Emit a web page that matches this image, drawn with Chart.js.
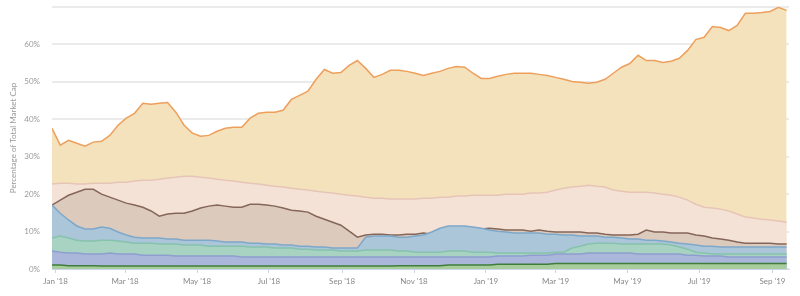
<!DOCTYPE html>
<html>
<head>
<meta charset="utf-8">
<script src="https://cdn.jsdelivr.net/npm/chart.js@4/dist/chart.umd.min.js"></script>
<style>
  body { margin: 0; background: #fff; }
  #wrap { width: 800px; height: 296px; }
</style>
</head>
<body>
<div id="wrap"><canvas id="chart"></canvas></div>
<script>
// days counted from 1 Jan 2018, one point per week
const days = [];
for (let d = -3; d <= 620; d += 7) days.push(d);

const tickDays = [0, 59, 120, 181, 243, 304, 365, 424, 485, 546, 608];
const tickLabels = ["Jan '18", "Mar '18", "May '18", "Jul '18", "Sep '18", "Nov '18", "Jan '19", "Mar '19", "May '19", "Jul '19", "Sep '19"];

const btc = [37.6, 33.1, 34.4, 33.6, 32.8, 33.9, 34.1, 35.7, 38.4, 40.3,
  41.6, 44.3, 44.0, 44.3, 44.5, 41.9, 38.4, 36.3, 35.5, 35.7,
  36.8, 37.6, 37.9, 37.9, 40.3, 41.6, 41.9, 41.9, 42.4, 45.3,
  46.4, 47.5, 50.7, 53.3, 52.3, 52.5, 54.4, 55.7, 53.6, 51.2,
  52.0, 53.1, 53.1, 52.8, 52.3, 51.7, 52.3, 52.8, 53.6, 54.1,
  53.9, 52.3, 50.9, 50.9, 51.5, 52.0, 52.3, 52.3, 52.3, 52.0,
  51.7, 51.2, 50.7, 50.1, 49.9, 49.6, 49.9, 50.7, 52.3, 53.9,
  54.9, 57.1, 55.7, 55.7, 55.2, 55.5, 56.3, 58.4, 61.3, 61.9,
  64.8, 64.5, 63.7, 65.1, 68.3, 68.3, 68.5, 68.8, 69.9, 69.1];

const eth = [22.7, 22.9, 22.9, 22.7, 22.7, 22.9, 22.9, 22.9, 23.2, 23.2,
  23.5, 23.7, 23.7, 24.0, 24.3, 24.5, 24.8, 24.8, 24.5, 24.3,
  24.0, 23.7, 23.5, 23.2, 22.9, 22.7, 22.4, 22.1, 21.9, 21.6,
  21.3, 21.1, 20.8, 20.5, 20.3, 20.0, 19.7, 19.5, 19.2, 18.9,
  18.9, 18.7, 18.7, 18.7, 18.7, 18.9, 18.9, 19.2, 19.2, 19.5,
  19.5, 19.7, 19.7, 19.7, 19.7, 20.0, 20.0, 20.0, 20.3, 20.3,
  20.5, 21.1, 21.6, 21.9, 22.1, 22.4, 22.1, 21.9, 21.1, 20.8,
  20.5, 20.5, 20.5, 20.3, 20.0, 19.7, 19.2, 18.4, 17.3, 16.5,
  16.3, 16.0, 15.5, 14.7, 13.9, 13.6, 13.3, 13.1, 12.8, 12.5];

const xrp = [17.1, 18.4, 19.7, 20.5, 21.3, 21.3, 20.0, 19.2, 18.4, 17.6,
  17.1, 16.5, 15.5, 14.1, 14.7, 14.9, 14.9, 15.5, 16.3, 16.8,
  17.1, 16.8, 16.5, 16.5, 17.3, 17.3, 17.1, 16.8, 16.3, 15.7,
  15.5, 15.2, 14.1, 13.3, 12.5, 11.7, 10.1, 8.5, 9.1, 9.3,
  9.3, 9.1, 9.1, 9.3, 9.3, 9.6, 9.3, 9.3, 9.6, 9.9,
  9.9, 10.1, 10.7, 10.9, 10.7, 10.4, 10.4, 10.4, 10.1, 10.4,
  10.1, 9.9, 9.9, 9.9, 9.9, 9.6, 9.6, 9.3, 9.1, 9.1,
  9.1, 9.3, 10.4, 9.9, 9.9, 9.6, 9.6, 9.6, 9.1, 8.8,
  8.3, 8.0, 7.7, 7.2, 6.9, 6.9, 6.9, 6.9, 6.7, 6.7];

const bch = [17.1, 14.9, 13.1, 11.5, 10.7, 10.7, 11.2, 10.9, 9.9, 9.1,
  8.5, 8.3, 8.3, 8.3, 8.0, 8.0, 7.7, 7.7, 7.7, 7.7,
  7.5, 7.2, 7.2, 7.2, 6.9, 6.9, 6.7, 6.7, 6.4, 6.4,
  6.1, 6.1, 5.9, 5.9, 5.6, 5.6, 5.6, 5.6, 8.5, 8.8,
  8.8, 8.8, 8.5, 8.5, 8.8, 9.1, 9.9, 10.9, 11.5, 11.5,
  11.5, 11.2, 10.9, 10.4, 10.1, 9.9, 9.6, 9.6, 9.6, 9.6,
  9.3, 9.3, 9.1, 9.1, 8.8, 8.8, 8.8, 8.5, 8.5, 8.3,
  8.0, 8.0, 7.7, 7.7, 7.5, 7.2, 6.9, 6.7, 6.4, 6.1,
  6.1, 5.9, 5.9, 5.9, 5.9, 5.9, 5.9, 5.9, 5.9, 5.9];

const eos = [8.3, 8.8, 8.3, 7.7, 7.5, 7.5, 7.7, 7.7, 7.5, 7.2,
  6.9, 6.9, 6.9, 6.7, 6.7, 6.7, 6.4, 6.4, 6.4, 6.1,
  6.1, 6.1, 6.1, 6.1, 5.9, 5.9, 5.9, 5.6, 5.6, 5.6,
  5.3, 5.3, 5.1, 5.1, 5.1, 4.8, 4.8, 4.8, 5.1, 5.1,
  5.1, 5.1, 4.8, 4.8, 4.5, 4.5, 4.5, 4.5, 4.8, 4.8,
  4.8, 4.5, 4.5, 4.5, 4.3, 4.3, 4.3, 4.3, 4.3, 4.3,
  4.3, 4.5, 4.5, 5.6, 6.1, 6.7, 6.9, 6.9, 6.9, 6.7,
  6.7, 6.7, 6.7, 6.7, 6.7, 6.4, 5.9, 5.3, 4.5, 4.3,
  4.0, 4.0, 4.0, 4.0, 4.0, 4.0, 4.0, 4.0, 4.0, 4.0];

const ltc = [4.8, 4.5, 4.3, 4.3, 4.0, 4.0, 4.0, 4.3, 4.0, 4.0,
  4.0, 3.7, 3.7, 3.7, 3.7, 3.5, 3.5, 3.5, 3.5, 3.5,
  3.5, 3.5, 3.5, 3.2, 3.2, 3.2, 3.2, 3.2, 3.2, 3.2,
  3.2, 3.2, 3.2, 3.2, 3.2, 3.2, 3.2, 3.2, 3.2, 3.2,
  3.2, 3.2, 3.2, 3.2, 3.2, 3.2, 3.2, 3.2, 3.2, 3.2,
  3.2, 3.2, 3.2, 3.2, 3.5, 3.5, 3.5, 3.5, 3.7, 3.7,
  3.7, 4.0, 4.0, 4.0, 4.0, 4.3, 4.3, 4.3, 4.3, 4.3,
  4.3, 4.0, 4.0, 4.0, 4.0, 4.0, 4.0, 3.7, 3.7, 3.5,
  3.5, 3.5, 3.2, 3.2, 3.2, 3.2, 3.2, 3.2, 3.2, 3.2];

const others = [1.1, 1.1, 0.9, 0.9, 0.9, 0.9, 0.8, 0.8, 0.8, 0.8,
  0.8, 0.8, 0.8, 0.8, 0.8, 0.8, 0.8, 0.8, 0.8, 0.8,
  0.8, 0.8, 0.8, 0.8, 0.8, 0.8, 0.8, 0.8, 0.8, 0.8,
  0.8, 0.8, 0.8, 0.8, 0.8, 0.8, 0.8, 0.8, 0.8, 0.8,
  0.8, 0.8, 0.9, 0.9, 0.9, 0.9, 0.9, 0.9, 1.1, 1.1,
  1.1, 1.1, 1.1, 1.1, 1.3, 1.3, 1.3, 1.3, 1.3, 1.3,
  1.3, 1.5, 1.5, 1.5, 1.5, 1.5, 1.5, 1.5, 1.5, 1.5,
  1.5, 1.5, 1.5, 1.5, 1.5, 1.5, 1.5, 1.5, 1.5, 1.5,
  1.5, 1.5, 1.5, 1.5, 1.5, 1.5, 1.5, 1.5, 1.5, 1.5];

// bottom layer first: dataset 0 is painted last, on top
const layers = [
  { data: others, line: '#3f7d3a', fill: '#a9cc9c' },
  { data: ltc, line: '#8e9fcf', fill: '#aab7db' },
  { data: eos, line: '#86c2ad', fill: '#a8d3c2' },
  { data: bch, line: '#7ea8c9', fill: '#abc5d9' },
  { data: xrp, line: '#84665a', fill: '#dccabd' },
  { data: eth, line: '#e6c5b6', fill: '#f5e2d6' },
  { data: btc, line: '#ee9f5c', fill: '#f4e2bd' }
];

const ctx = document.getElementById('chart').getContext('2d');

new Chart(ctx, {
  type: 'line',
  data: {
    datasets: layers.map(l => ({
      data: l.data.map((v, i) => ({ x: days[i], y: v })),
      borderColor: l.line,
      backgroundColor: l.fill,
      borderWidth: 1.5,
      pointRadius: 0,
      tension: 0,
      fill: 'origin'
    }))
  },
  options: {
    responsive: true,
    maintainAspectRatio: false,
    animation: false,
    layout: { padding: { top: 7, right: 11, left: 0, bottom: 0 } },
    plugins: {
      legend: { display: false },
      tooltip: { enabled: false }
    },
    scales: {
      x: {
        type: 'linear',
        min: -3,
        max: 622,
        afterFit: (scale) => { scale.height = 27; },
        afterBuildTicks: (scale) => {
          scale.ticks = tickDays.map(v => ({ value: v }));
        },
        grid: { drawOnChartArea: false, drawTicks: true, tickLength: 4, color: '#ccd6eb' },
        border: { display: true, color: '#ccd6eb' },
        ticks: {
          autoSkip: false,
          maxRotation: 0,
          padding: 4,
          color: '#888',
          font: { family: 'Lato', size: 8 },
          callback: (value) => tickLabels[tickDays.indexOf(value)]
        }
      },
      y: {
        min: 0,
        max: 70,
        afterFit: (scale) => {
          scale.width = 52;
          scale.paddingTop = 0;
          scale.paddingBottom = 0;
        },
        grid: { color: '#ebebeb', lineWidth: 2, drawTicks: false },
        border: { display: false },
        ticks: {
          stepSize: 10,
          padding: 12,
          color: '#999',
          font: { family: 'Lato', size: 8 },
          callback: (v) => (v === 70 ? '' : v + '%')
        },
        title: {
          display: true,
          text: 'Percentage of Total Market Cap',
          color: '#999',
          padding: { top: 9, bottom: 0 },
          font: { family: 'Lato', size: 8 }
        }
      }
    }
  }
});
</script>
</body>
</html>
